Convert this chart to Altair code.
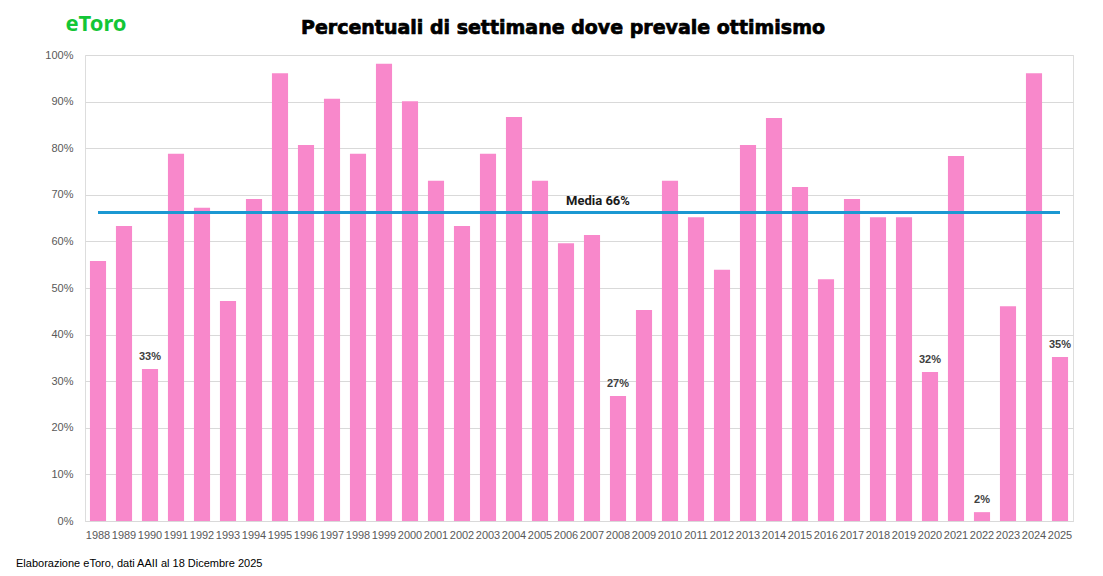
import altair as alt
import pandas as pd

years = [str(y) for y in range(1988, 2026)]
values = [55.8, 63.3, 32.6, 78.8, 67.2, 47.2, 69.1, 96.1, 80.7, 90.6,
          78.8, 98.1, 90.1, 73.0, 63.3, 78.8, 86.7, 73.0, 59.6, 61.4,
          26.8, 45.3, 73.0, 65.2, 53.9, 80.7, 86.5, 71.7, 51.9, 69.1,
          65.2, 65.2, 32.0, 78.3, 1.9, 46.1, 96.1, 35.2]
labeled_years = ["1990", "2008", "2020", "2022", "2025"]
mean_value = 66.2
mean_text = "Media 66%"
title_text = "Percentuali di settimane dove prevale ottimismo"
footer_text = "Elaborazione eToro, dati AAII al 18 Dicembre 2025"
logo_text = "eToro"

df = pd.DataFrame({"year": years, "value": values})
df["label"] = [f"{round(v):.0f}%" for v in values]
lab_df = df[df["year"].isin(labeled_years)]
mean_df = pd.DataFrame({"x1": [years[0]], "x2": [years[-1]], "m": [mean_value],
                        "xt": ["2007"], "t": [mean_text]})
one = pd.DataFrame({"a": [0]})

W, H = 988, 466

xscale = alt.Scale(domain=years, paddingInner=0.38, paddingOuter=0.19)
yscale = alt.Scale(domain=[0, 100])

xaxis = alt.Axis(title=None, labelAngle=0, labelFont="Liberation Sans", labelFontSize=11,
                 labelColor="#595959", ticks=False, domainColor="#d9d9d9", domainWidth=1,
                 labelPadding=8, grid=False)
yaxis = alt.Axis(title=None, values=list(range(0, 101, 10)), labelExpr="datum.value + '%'",
                 labelFont="Liberation Sans", labelFontSize=11, labelColor="#595959",
                 ticks=False, domain=False, labelPadding=12, gridColor="#d9d9d9", gridWidth=1)

bars = alt.Chart(df).mark_bar(color="#F888CB").encode(
    x=alt.X("year:N", scale=xscale, axis=xaxis, sort=years),
    y=alt.Y("value:Q", scale=yscale, axis=yaxis),
)

labels = alt.Chart(lab_df).mark_text(font="Liberation Sans", fontSize=11, fontWeight="bold",
                                     color="#404040", baseline="bottom", dy=-7).encode(
    x=alt.X("year:N", scale=xscale, sort=years),
    y=alt.Y("value:Q", scale=yscale),
    text="label:N",
)

rule = alt.Chart(mean_df).mark_rule(color="#1B98D2", strokeWidth=3).encode(
    x=alt.X("x1:N", scale=xscale, sort=years),
    x2="x2:N",
    y=alt.Y("m:Q", scale=yscale),
)

mean_label = alt.Chart(mean_df).mark_text(font="Roboto", fontSize=13, fontWeight="bold",
                                          color="#1a1a1a", baseline="bottom", dy=-5, dx=6).encode(
    x=alt.X("xt:N", scale=xscale, sort=years),
    y=alt.Y("m:Q", scale=yscale),
    text="t:N",
)

title = alt.Chart(one).mark_text(font="DejaVu Sans", fontSize=19, fontWeight="bold",
                                 color="#000000", stroke="#000000", strokeWidth=0.7,
                                 align="center", baseline="middle").encode(
    x=alt.value(478), y=alt.value(-27), text=alt.value(title_text))

logo = alt.Chart(one).mark_text(font="Noto Sans", fontSize=22, fontWeight="bold",
                                color="#13C636", align="center", baseline="middle").encode(
    x=alt.value(11), y=alt.value(-31), text=alt.value(logo_text))

footer = alt.Chart(one).mark_text(font="Liberation Sans", fontSize=11, color="#000000",
                                  align="left", baseline="middle").encode(
    x=alt.value(-69), y=alt.value(509), text=alt.value(footer_text))

chart = alt.layer(bars, labels, rule, mean_label, title, logo, footer).properties(
    width=W, height=H,
    autosize=alt.AutoSizeParams(type="none"),
    padding={"left": 77, "top": 47, "right": 22, "bottom": 50},
).configure_view(stroke=None).configure(background="white")

chart.save("out.html", embed_options={"renderer": "svg", "actions": False})
